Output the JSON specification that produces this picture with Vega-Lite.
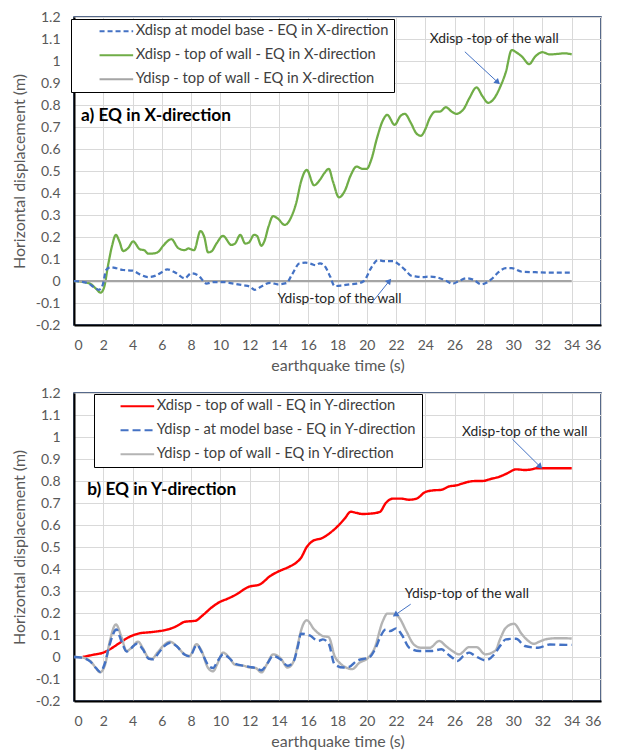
{
  "$schema": "https://vega.github.io/schema/vega-lite/v6.json",
  "padding": {"left": 10, "top": 9, "right": 5, "bottom": 3},
  "spacing": 11,
  "config": {
    "font": "Lato",
    "view": {"stroke": "#1F3864", "strokeWidth": 1.5},
    "axis": {"domainColor": "#000000", "domainWidth": 2, "gridColor": "#D9D9D9", "gridWidth": 1, "ticks": false, "labelOverlap": false, "labelSeparation": 0, "labelBound": false, "labelColor": "#595959", "labelFontSize": 14, "titleColor": "#595959", "titleFontSize": 16, "titleFontWeight": "normal", "labelFont": "Lato", "titleFont": "Lato"},
    "axisX": {"labelPadding": 13, "titlePadding": 5, "labelOverlap": false},
    "axisY": {"labelPadding": 14, "titlePadding": 8, "labelOverlap": false},
    "axisQuantitative": {"labelOverlap": false}
  },
  "datasets": {
    "a_lines": [
      {"t":0,"v":0,"s":"Xdisp - top of wall - EQ in X-direction"},
      {"t":0.5,"v":-0.003,"s":"Xdisp - top of wall - EQ in X-direction"},
      {"t":1.1,"v":-0.012,"s":"Xdisp - top of wall - EQ in X-direction"},
      {"t":1.5,"v":-0.035,"s":"Xdisp - top of wall - EQ in X-direction"},
      {"t":1.82,"v":-0.053,"s":"Xdisp - top of wall - EQ in X-direction"},
      {"t":2.05,"v":-0.03,"s":"Xdisp - top of wall - EQ in X-direction"},
      {"t":2.34,"v":0.076,"s":"Xdisp - top of wall - EQ in X-direction"},
      {"t":2.6,"v":0.16,"s":"Xdisp - top of wall - EQ in X-direction"},
      {"t":2.86,"v":0.21,"s":"Xdisp - top of wall - EQ in X-direction"},
      {"t":3.1,"v":0.18,"s":"Xdisp - top of wall - EQ in X-direction"},
      {"t":3.36,"v":0.136,"s":"Xdisp - top of wall - EQ in X-direction"},
      {"t":3.7,"v":0.15,"s":"Xdisp - top of wall - EQ in X-direction"},
      {"t":4.04,"v":0.18,"s":"Xdisp - top of wall - EQ in X-direction"},
      {"t":4.5,"v":0.144,"s":"Xdisp - top of wall - EQ in X-direction"},
      {"t":4.8,"v":0.14,"s":"Xdisp - top of wall - EQ in X-direction"},
      {"t":5.07,"v":0.124,"s":"Xdisp - top of wall - EQ in X-direction"},
      {"t":5.5,"v":0.126,"s":"Xdisp - top of wall - EQ in X-direction"},
      {"t":5.8,"v":0.135,"s":"Xdisp - top of wall - EQ in X-direction"},
      {"t":6.09,"v":0.16,"s":"Xdisp - top of wall - EQ in X-direction"},
      {"t":6.66,"v":0.19,"s":"Xdisp - top of wall - EQ in X-direction"},
      {"t":7.11,"v":0.15,"s":"Xdisp - top of wall - EQ in X-direction"},
      {"t":7.57,"v":0.14,"s":"Xdisp - top of wall - EQ in X-direction"},
      {"t":7.8,"v":0.148,"s":"Xdisp - top of wall - EQ in X-direction"},
      {"t":8.2,"v":0.14,"s":"Xdisp - top of wall - EQ in X-direction"},
      {"t":8.64,"v":0.227,"s":"Xdisp - top of wall - EQ in X-direction"},
      {"t":8.9,"v":0.2,"s":"Xdisp - top of wall - EQ in X-direction"},
      {"t":9.16,"v":0.13,"s":"Xdisp - top of wall - EQ in X-direction"},
      {"t":9.4,"v":0.135,"s":"Xdisp - top of wall - EQ in X-direction"},
      {"t":9.73,"v":0.17,"s":"Xdisp - top of wall - EQ in X-direction"},
      {"t":10.18,"v":0.205,"s":"Xdisp - top of wall - EQ in X-direction"},
      {"t":10.75,"v":0.164,"s":"Xdisp - top of wall - EQ in X-direction"},
      {"t":11.0,"v":0.17,"s":"Xdisp - top of wall - EQ in X-direction"},
      {"t":11.36,"v":0.21,"s":"Xdisp - top of wall - EQ in X-direction"},
      {"t":11.7,"v":0.17,"s":"Xdisp - top of wall - EQ in X-direction"},
      {"t":11.95,"v":0.175,"s":"Xdisp - top of wall - EQ in X-direction"},
      {"t":12.3,"v":0.21,"s":"Xdisp - top of wall - EQ in X-direction"},
      {"t":12.5,"v":0.205,"s":"Xdisp - top of wall - EQ in X-direction"},
      {"t":12.8,"v":0.16,"s":"Xdisp - top of wall - EQ in X-direction"},
      {"t":13.0,"v":0.18,"s":"Xdisp - top of wall - EQ in X-direction"},
      {"t":13.3,"v":0.25,"s":"Xdisp - top of wall - EQ in X-direction"},
      {"t":13.6,"v":0.295,"s":"Xdisp - top of wall - EQ in X-direction"},
      {"t":13.9,"v":0.285,"s":"Xdisp - top of wall - EQ in X-direction"},
      {"t":14.4,"v":0.255,"s":"Xdisp - top of wall - EQ in X-direction"},
      {"t":14.9,"v":0.3,"s":"Xdisp - top of wall - EQ in X-direction"},
      {"t":15.2,"v":0.36,"s":"Xdisp - top of wall - EQ in X-direction"},
      {"t":15.5,"v":0.45,"s":"Xdisp - top of wall - EQ in X-direction"},
      {"t":15.9,"v":0.505,"s":"Xdisp - top of wall - EQ in X-direction"},
      {"t":16.4,"v":0.435,"s":"Xdisp - top of wall - EQ in X-direction"},
      {"t":16.8,"v":0.46,"s":"Xdisp - top of wall - EQ in X-direction"},
      {"t":17.1,"v":0.49,"s":"Xdisp - top of wall - EQ in X-direction"},
      {"t":17.4,"v":0.51,"s":"Xdisp - top of wall - EQ in X-direction"},
      {"t":17.7,"v":0.45,"s":"Xdisp - top of wall - EQ in X-direction"},
      {"t":18.1,"v":0.38,"s":"Xdisp - top of wall - EQ in X-direction"},
      {"t":18.5,"v":0.41,"s":"Xdisp - top of wall - EQ in X-direction"},
      {"t":18.9,"v":0.48,"s":"Xdisp - top of wall - EQ in X-direction"},
      {"t":19.3,"v":0.52,"s":"Xdisp - top of wall - EQ in X-direction"},
      {"t":19.7,"v":0.51,"s":"Xdisp - top of wall - EQ in X-direction"},
      {"t":20.0,"v":0.51,"s":"Xdisp - top of wall - EQ in X-direction"},
      {"t":20.3,"v":0.55,"s":"Xdisp - top of wall - EQ in X-direction"},
      {"t":20.7,"v":0.65,"s":"Xdisp - top of wall - EQ in X-direction"},
      {"t":21.1,"v":0.73,"s":"Xdisp - top of wall - EQ in X-direction"},
      {"t":21.4,"v":0.755,"s":"Xdisp - top of wall - EQ in X-direction"},
      {"t":21.9,"v":0.71,"s":"Xdisp - top of wall - EQ in X-direction"},
      {"t":22.3,"v":0.75,"s":"Xdisp - top of wall - EQ in X-direction"},
      {"t":22.6,"v":0.76,"s":"Xdisp - top of wall - EQ in X-direction"},
      {"t":23.0,"v":0.72,"s":"Xdisp - top of wall - EQ in X-direction"},
      {"t":23.4,"v":0.67,"s":"Xdisp - top of wall - EQ in X-direction"},
      {"t":23.7,"v":0.66,"s":"Xdisp - top of wall - EQ in X-direction"},
      {"t":24.0,"v":0.69,"s":"Xdisp - top of wall - EQ in X-direction"},
      {"t":24.3,"v":0.74,"s":"Xdisp - top of wall - EQ in X-direction"},
      {"t":24.7,"v":0.77,"s":"Xdisp - top of wall - EQ in X-direction"},
      {"t":25.0,"v":0.77,"s":"Xdisp - top of wall - EQ in X-direction"},
      {"t":25.4,"v":0.79,"s":"Xdisp - top of wall - EQ in X-direction"},
      {"t":25.8,"v":0.77,"s":"Xdisp - top of wall - EQ in X-direction"},
      {"t":26.1,"v":0.76,"s":"Xdisp - top of wall - EQ in X-direction"},
      {"t":26.6,"v":0.78,"s":"Xdisp - top of wall - EQ in X-direction"},
      {"t":27.0,"v":0.83,"s":"Xdisp - top of wall - EQ in X-direction"},
      {"t":27.5,"v":0.88,"s":"Xdisp - top of wall - EQ in X-direction"},
      {"t":27.9,"v":0.84,"s":"Xdisp - top of wall - EQ in X-direction"},
      {"t":28.3,"v":0.81,"s":"Xdisp - top of wall - EQ in X-direction"},
      {"t":28.7,"v":0.83,"s":"Xdisp - top of wall - EQ in X-direction"},
      {"t":29.1,"v":0.88,"s":"Xdisp - top of wall - EQ in X-direction"},
      {"t":29.5,"v":0.95,"s":"Xdisp - top of wall - EQ in X-direction"},
      {"t":29.9,"v":1.05,"s":"Xdisp - top of wall - EQ in X-direction"},
      {"t":30.2,"v":1.04,"s":"Xdisp - top of wall - EQ in X-direction"},
      {"t":30.6,"v":1.02,"s":"Xdisp - top of wall - EQ in X-direction"},
      {"t":31.1,"v":0.986,"s":"Xdisp - top of wall - EQ in X-direction"},
      {"t":31.5,"v":1.02,"s":"Xdisp - top of wall - EQ in X-direction"},
      {"t":32.0,"v":1.04,"s":"Xdisp - top of wall - EQ in X-direction"},
      {"t":32.5,"v":1.03,"s":"Xdisp - top of wall - EQ in X-direction"},
      {"t":33.0,"v":1.032,"s":"Xdisp - top of wall - EQ in X-direction"},
      {"t":33.5,"v":1.035,"s":"Xdisp - top of wall - EQ in X-direction"},
      {"t":34.0,"v":1.03,"s":"Xdisp - top of wall - EQ in X-direction"},
      {"t":0,"v":0,"s":"Ydisp - top of wall - EQ in X-direction"},
      {"t":34,"v":0,"s":"Ydisp - top of wall - EQ in X-direction"},
      {"t":0,"v":0,"s":"Xdisp at model base - EQ in X-direction"},
      {"t":0.5,"v":-0.003,"s":"Xdisp at model base - EQ in X-direction"},
      {"t":1.0,"v":-0.012,"s":"Xdisp at model base - EQ in X-direction"},
      {"t":1.4,"v":-0.03,"s":"Xdisp at model base - EQ in X-direction"},
      {"t":1.7,"v":-0.04,"s":"Xdisp at model base - EQ in X-direction"},
      {"t":1.95,"v":-0.02,"s":"Xdisp at model base - EQ in X-direction"},
      {"t":2.2,"v":0.05,"s":"Xdisp at model base - EQ in X-direction"},
      {"t":2.5,"v":0.063,"s":"Xdisp at model base - EQ in X-direction"},
      {"t":2.9,"v":0.058,"s":"Xdisp at model base - EQ in X-direction"},
      {"t":3.36,"v":0.05,"s":"Xdisp at model base - EQ in X-direction"},
      {"t":4.0,"v":0.047,"s":"Xdisp at model base - EQ in X-direction"},
      {"t":4.5,"v":0.03,"s":"Xdisp at model base - EQ in X-direction"},
      {"t":5.07,"v":0.018,"s":"Xdisp at model base - EQ in X-direction"},
      {"t":5.6,"v":0.025,"s":"Xdisp at model base - EQ in X-direction"},
      {"t":6.0,"v":0.04,"s":"Xdisp at model base - EQ in X-direction"},
      {"t":6.37,"v":0.053,"s":"Xdisp at model base - EQ in X-direction"},
      {"t":7.0,"v":0.035,"s":"Xdisp at model base - EQ in X-direction"},
      {"t":7.57,"v":0.012,"s":"Xdisp at model base - EQ in X-direction"},
      {"t":8.0,"v":0.035,"s":"Xdisp at model base - EQ in X-direction"},
      {"t":8.5,"v":0.025,"s":"Xdisp at model base - EQ in X-direction"},
      {"t":9.05,"v":-0.012,"s":"Xdisp at model base - EQ in X-direction"},
      {"t":9.5,"v":-0.005,"s":"Xdisp at model base - EQ in X-direction"},
      {"t":10.2,"v":-0.005,"s":"Xdisp at model base - EQ in X-direction"},
      {"t":10.9,"v":-0.012,"s":"Xdisp at model base - EQ in X-direction"},
      {"t":11.6,"v":-0.02,"s":"Xdisp at model base - EQ in X-direction"},
      {"t":12.0,"v":-0.025,"s":"Xdisp at model base - EQ in X-direction"},
      {"t":12.35,"v":-0.04,"s":"Xdisp at model base - EQ in X-direction"},
      {"t":12.8,"v":-0.025,"s":"Xdisp at model base - EQ in X-direction"},
      {"t":13.4,"v":-0.008,"s":"Xdisp at model base - EQ in X-direction"},
      {"t":13.9,"v":-0.015,"s":"Xdisp at model base - EQ in X-direction"},
      {"t":14.5,"v":-0.01,"s":"Xdisp at model base - EQ in X-direction"},
      {"t":14.9,"v":0.03,"s":"Xdisp at model base - EQ in X-direction"},
      {"t":15.4,"v":0.08,"s":"Xdisp at model base - EQ in X-direction"},
      {"t":15.8,"v":0.083,"s":"Xdisp at model base - EQ in X-direction"},
      {"t":16.2,"v":0.078,"s":"Xdisp at model base - EQ in X-direction"},
      {"t":16.5,"v":0.072,"s":"Xdisp at model base - EQ in X-direction"},
      {"t":16.8,"v":0.08,"s":"Xdisp at model base - EQ in X-direction"},
      {"t":17.1,"v":0.07,"s":"Xdisp at model base - EQ in X-direction"},
      {"t":17.5,"v":0.02,"s":"Xdisp at model base - EQ in X-direction"},
      {"t":17.8,"v":-0.023,"s":"Xdisp at model base - EQ in X-direction"},
      {"t":18.3,"v":-0.02,"s":"Xdisp at model base - EQ in X-direction"},
      {"t":18.8,"v":-0.015,"s":"Xdisp at model base - EQ in X-direction"},
      {"t":19.3,"v":-0.012,"s":"Xdisp at model base - EQ in X-direction"},
      {"t":19.8,"v":0.0,"s":"Xdisp at model base - EQ in X-direction"},
      {"t":20.3,"v":0.06,"s":"Xdisp at model base - EQ in X-direction"},
      {"t":20.75,"v":0.095,"s":"Xdisp at model base - EQ in X-direction"},
      {"t":21.2,"v":0.09,"s":"Xdisp at model base - EQ in X-direction"},
      {"t":21.8,"v":0.09,"s":"Xdisp at model base - EQ in X-direction"},
      {"t":22.2,"v":0.075,"s":"Xdisp at model base - EQ in X-direction"},
      {"t":22.7,"v":0.045,"s":"Xdisp at model base - EQ in X-direction"},
      {"t":23.0,"v":0.025,"s":"Xdisp at model base - EQ in X-direction"},
      {"t":23.4,"v":0.02,"s":"Xdisp at model base - EQ in X-direction"},
      {"t":23.8,"v":0.018,"s":"Xdisp at model base - EQ in X-direction"},
      {"t":24.3,"v":0.02,"s":"Xdisp at model base - EQ in X-direction"},
      {"t":24.7,"v":0.018,"s":"Xdisp at model base - EQ in X-direction"},
      {"t":25.3,"v":0.005,"s":"Xdisp at model base - EQ in X-direction"},
      {"t":25.86,"v":-0.012,"s":"Xdisp at model base - EQ in X-direction"},
      {"t":26.3,"v":0.0,"s":"Xdisp at model base - EQ in X-direction"},
      {"t":26.8,"v":0.012,"s":"Xdisp at model base - EQ in X-direction"},
      {"t":27.3,"v":0.005,"s":"Xdisp at model base - EQ in X-direction"},
      {"t":27.8,"v":-0.015,"s":"Xdisp at model base - EQ in X-direction"},
      {"t":28.5,"v":0.007,"s":"Xdisp at model base - EQ in X-direction"},
      {"t":29.0,"v":0.04,"s":"Xdisp at model base - EQ in X-direction"},
      {"t":29.5,"v":0.058,"s":"Xdisp at model base - EQ in X-direction"},
      {"t":29.9,"v":0.058,"s":"Xdisp at model base - EQ in X-direction"},
      {"t":30.6,"v":0.042,"s":"Xdisp at model base - EQ in X-direction"},
      {"t":31.5,"v":0.04,"s":"Xdisp at model base - EQ in X-direction"},
      {"t":32.5,"v":0.038,"s":"Xdisp at model base - EQ in X-direction"},
      {"t":33.3,"v":0.038,"s":"Xdisp at model base - EQ in X-direction"},
      {"t":34.0,"v":0.038,"s":"Xdisp at model base - EQ in X-direction"}
    ],
    "b_lines": [
      {"t":0.6,"v":0,"s":"Xdisp - top of wall - EQ in Y-direction"},
      {"t":1.3,"v":0.01,"s":"Xdisp - top of wall - EQ in Y-direction"},
      {"t":2.0,"v":0.02,"s":"Xdisp - top of wall - EQ in Y-direction"},
      {"t":2.57,"v":0.04,"s":"Xdisp - top of wall - EQ in Y-direction"},
      {"t":3.14,"v":0.065,"s":"Xdisp - top of wall - EQ in Y-direction"},
      {"t":3.8,"v":0.092,"s":"Xdisp - top of wall - EQ in Y-direction"},
      {"t":4.5,"v":0.108,"s":"Xdisp - top of wall - EQ in Y-direction"},
      {"t":5.1,"v":0.112,"s":"Xdisp - top of wall - EQ in Y-direction"},
      {"t":5.86,"v":0.118,"s":"Xdisp - top of wall - EQ in Y-direction"},
      {"t":6.4,"v":0.125,"s":"Xdisp - top of wall - EQ in Y-direction"},
      {"t":7.0,"v":0.14,"s":"Xdisp - top of wall - EQ in Y-direction"},
      {"t":7.57,"v":0.16,"s":"Xdisp - top of wall - EQ in Y-direction"},
      {"t":8.3,"v":0.165,"s":"Xdisp - top of wall - EQ in Y-direction"},
      {"t":8.8,"v":0.19,"s":"Xdisp - top of wall - EQ in Y-direction"},
      {"t":9.4,"v":0.225,"s":"Xdisp - top of wall - EQ in Y-direction"},
      {"t":9.95,"v":0.25,"s":"Xdisp - top of wall - EQ in Y-direction"},
      {"t":10.5,"v":0.265,"s":"Xdisp - top of wall - EQ in Y-direction"},
      {"t":11.1,"v":0.285,"s":"Xdisp - top of wall - EQ in Y-direction"},
      {"t":11.9,"v":0.318,"s":"Xdisp - top of wall - EQ in Y-direction"},
      {"t":12.7,"v":0.33,"s":"Xdisp - top of wall - EQ in Y-direction"},
      {"t":13.4,"v":0.368,"s":"Xdisp - top of wall - EQ in Y-direction"},
      {"t":14.0,"v":0.39,"s":"Xdisp - top of wall - EQ in Y-direction"},
      {"t":14.7,"v":0.41,"s":"Xdisp - top of wall - EQ in Y-direction"},
      {"t":15.2,"v":0.43,"s":"Xdisp - top of wall - EQ in Y-direction"},
      {"t":15.5,"v":0.45,"s":"Xdisp - top of wall - EQ in Y-direction"},
      {"t":15.9,"v":0.5,"s":"Xdisp - top of wall - EQ in Y-direction"},
      {"t":16.3,"v":0.527,"s":"Xdisp - top of wall - EQ in Y-direction"},
      {"t":17.0,"v":0.542,"s":"Xdisp - top of wall - EQ in Y-direction"},
      {"t":17.6,"v":0.57,"s":"Xdisp - top of wall - EQ in Y-direction"},
      {"t":18.1,"v":0.6,"s":"Xdisp - top of wall - EQ in Y-direction"},
      {"t":18.5,"v":0.63,"s":"Xdisp - top of wall - EQ in Y-direction"},
      {"t":18.9,"v":0.66,"s":"Xdisp - top of wall - EQ in Y-direction"},
      {"t":19.3,"v":0.655,"s":"Xdisp - top of wall - EQ in Y-direction"},
      {"t":19.7,"v":0.65,"s":"Xdisp - top of wall - EQ in Y-direction"},
      {"t":20.3,"v":0.652,"s":"Xdisp - top of wall - EQ in Y-direction"},
      {"t":20.9,"v":0.66,"s":"Xdisp - top of wall - EQ in Y-direction"},
      {"t":21.3,"v":0.7,"s":"Xdisp - top of wall - EQ in Y-direction"},
      {"t":21.8,"v":0.72,"s":"Xdisp - top of wall - EQ in Y-direction"},
      {"t":22.3,"v":0.72,"s":"Xdisp - top of wall - EQ in Y-direction"},
      {"t":22.9,"v":0.715,"s":"Xdisp - top of wall - EQ in Y-direction"},
      {"t":23.4,"v":0.72,"s":"Xdisp - top of wall - EQ in Y-direction"},
      {"t":24.0,"v":0.75,"s":"Xdisp - top of wall - EQ in Y-direction"},
      {"t":24.5,"v":0.757,"s":"Xdisp - top of wall - EQ in Y-direction"},
      {"t":25.1,"v":0.76,"s":"Xdisp - top of wall - EQ in Y-direction"},
      {"t":25.6,"v":0.775,"s":"Xdisp - top of wall - EQ in Y-direction"},
      {"t":26.1,"v":0.78,"s":"Xdisp - top of wall - EQ in Y-direction"},
      {"t":26.6,"v":0.79,"s":"Xdisp - top of wall - EQ in Y-direction"},
      {"t":27.0,"v":0.797,"s":"Xdisp - top of wall - EQ in Y-direction"},
      {"t":27.5,"v":0.8,"s":"Xdisp - top of wall - EQ in Y-direction"},
      {"t":27.9,"v":0.8,"s":"Xdisp - top of wall - EQ in Y-direction"},
      {"t":28.5,"v":0.81,"s":"Xdisp - top of wall - EQ in Y-direction"},
      {"t":29.0,"v":0.818,"s":"Xdisp - top of wall - EQ in Y-direction"},
      {"t":29.6,"v":0.835,"s":"Xdisp - top of wall - EQ in Y-direction"},
      {"t":30.2,"v":0.853,"s":"Xdisp - top of wall - EQ in Y-direction"},
      {"t":30.8,"v":0.85,"s":"Xdisp - top of wall - EQ in Y-direction"},
      {"t":31.2,"v":0.852,"s":"Xdisp - top of wall - EQ in Y-direction"},
      {"t":31.65,"v":0.858,"s":"Xdisp - top of wall - EQ in Y-direction"},
      {"t":32.5,"v":0.858,"s":"Xdisp - top of wall - EQ in Y-direction"},
      {"t":33.3,"v":0.858,"s":"Xdisp - top of wall - EQ in Y-direction"},
      {"t":34.0,"v":0.858,"s":"Xdisp - top of wall - EQ in Y-direction"},
      {"t":0,"v":0,"s":"Ydisp - top of wall - EQ in Y-direction"},
      {"t":0.5,"v":-0.002,"s":"Ydisp - top of wall - EQ in Y-direction"},
      {"t":1.1,"v":-0.018,"s":"Ydisp - top of wall - EQ in Y-direction"},
      {"t":1.5,"v":-0.05,"s":"Ydisp - top of wall - EQ in Y-direction"},
      {"t":1.77,"v":-0.07,"s":"Ydisp - top of wall - EQ in Y-direction"},
      {"t":2.1,"v":-0.04,"s":"Ydisp - top of wall - EQ in Y-direction"},
      {"t":2.45,"v":0.073,"s":"Ydisp - top of wall - EQ in Y-direction"},
      {"t":2.86,"v":0.148,"s":"Ydisp - top of wall - EQ in Y-direction"},
      {"t":3.25,"v":0.09,"s":"Ydisp - top of wall - EQ in Y-direction"},
      {"t":3.59,"v":0.027,"s":"Ydisp - top of wall - EQ in Y-direction"},
      {"t":3.9,"v":0.04,"s":"Ydisp - top of wall - EQ in Y-direction"},
      {"t":4.38,"v":0.07,"s":"Ydisp - top of wall - EQ in Y-direction"},
      {"t":4.7,"v":0.04,"s":"Ydisp - top of wall - EQ in Y-direction"},
      {"t":5.07,"v":-0.003,"s":"Ydisp - top of wall - EQ in Y-direction"},
      {"t":5.3,"v":-0.01,"s":"Ydisp - top of wall - EQ in Y-direction"},
      {"t":5.7,"v":0.02,"s":"Ydisp - top of wall - EQ in Y-direction"},
      {"t":6.09,"v":0.05,"s":"Ydisp - top of wall - EQ in Y-direction"},
      {"t":6.55,"v":0.07,"s":"Ydisp - top of wall - EQ in Y-direction"},
      {"t":7.0,"v":0.05,"s":"Ydisp - top of wall - EQ in Y-direction"},
      {"t":7.57,"v":0.012,"s":"Ydisp - top of wall - EQ in Y-direction"},
      {"t":7.9,"v":0.005,"s":"Ydisp - top of wall - EQ in Y-direction"},
      {"t":8.36,"v":0.058,"s":"Ydisp - top of wall - EQ in Y-direction"},
      {"t":8.7,"v":0.03,"s":"Ydisp - top of wall - EQ in Y-direction"},
      {"t":9.16,"v":-0.05,"s":"Ydisp - top of wall - EQ in Y-direction"},
      {"t":9.5,"v":-0.065,"s":"Ydisp - top of wall - EQ in Y-direction"},
      {"t":9.8,"v":-0.03,"s":"Ydisp - top of wall - EQ in Y-direction"},
      {"t":10.18,"v":0.02,"s":"Ydisp - top of wall - EQ in Y-direction"},
      {"t":10.6,"v":-0.003,"s":"Ydisp - top of wall - EQ in Y-direction"},
      {"t":11.0,"v":-0.035,"s":"Ydisp - top of wall - EQ in Y-direction"},
      {"t":11.6,"v":-0.04,"s":"Ydisp - top of wall - EQ in Y-direction"},
      {"t":12.0,"v":-0.048,"s":"Ydisp - top of wall - EQ in Y-direction"},
      {"t":12.4,"v":-0.05,"s":"Ydisp - top of wall - EQ in Y-direction"},
      {"t":12.8,"v":-0.07,"s":"Ydisp - top of wall - EQ in Y-direction"},
      {"t":13.2,"v":-0.03,"s":"Ydisp - top of wall - EQ in Y-direction"},
      {"t":13.6,"v":0.012,"s":"Ydisp - top of wall - EQ in Y-direction"},
      {"t":14.1,"v":-0.005,"s":"Ydisp - top of wall - EQ in Y-direction"},
      {"t":14.6,"v":-0.048,"s":"Ydisp - top of wall - EQ in Y-direction"},
      {"t":15.0,"v":-0.02,"s":"Ydisp - top of wall - EQ in Y-direction"},
      {"t":15.3,"v":0.06,"s":"Ydisp - top of wall - EQ in Y-direction"},
      {"t":15.5,"v":0.118,"s":"Ydisp - top of wall - EQ in Y-direction"},
      {"t":15.9,"v":0.167,"s":"Ydisp - top of wall - EQ in Y-direction"},
      {"t":16.4,"v":0.126,"s":"Ydisp - top of wall - EQ in Y-direction"},
      {"t":17.0,"v":0.095,"s":"Ydisp - top of wall - EQ in Y-direction"},
      {"t":17.4,"v":0.09,"s":"Ydisp - top of wall - EQ in Y-direction"},
      {"t":17.8,"v":0.005,"s":"Ydisp - top of wall - EQ in Y-direction"},
      {"t":18.2,"v":-0.03,"s":"Ydisp - top of wall - EQ in Y-direction"},
      {"t":18.6,"v":-0.048,"s":"Ydisp - top of wall - EQ in Y-direction"},
      {"t":19.0,"v":-0.055,"s":"Ydisp - top of wall - EQ in Y-direction"},
      {"t":19.5,"v":-0.026,"s":"Ydisp - top of wall - EQ in Y-direction"},
      {"t":20.1,"v":-0.003,"s":"Ydisp - top of wall - EQ in Y-direction"},
      {"t":20.5,"v":0.035,"s":"Ydisp - top of wall - EQ in Y-direction"},
      {"t":21.1,"v":0.164,"s":"Ydisp - top of wall - EQ in Y-direction"},
      {"t":21.4,"v":0.197,"s":"Ydisp - top of wall - EQ in Y-direction"},
      {"t":21.8,"v":0.197,"s":"Ydisp - top of wall - EQ in Y-direction"},
      {"t":22.2,"v":0.18,"s":"Ydisp - top of wall - EQ in Y-direction"},
      {"t":22.7,"v":0.118,"s":"Ydisp - top of wall - EQ in Y-direction"},
      {"t":23.2,"v":0.058,"s":"Ydisp - top of wall - EQ in Y-direction"},
      {"t":23.7,"v":0.042,"s":"Ydisp - top of wall - EQ in Y-direction"},
      {"t":24.3,"v":0.042,"s":"Ydisp - top of wall - EQ in Y-direction"},
      {"t":24.95,"v":0.073,"s":"Ydisp - top of wall - EQ in Y-direction"},
      {"t":25.4,"v":0.05,"s":"Ydisp - top of wall - EQ in Y-direction"},
      {"t":25.9,"v":0.025,"s":"Ydisp - top of wall - EQ in Y-direction"},
      {"t":26.3,"v":0.012,"s":"Ydisp - top of wall - EQ in Y-direction"},
      {"t":27.0,"v":0.045,"s":"Ydisp - top of wall - EQ in Y-direction"},
      {"t":27.5,"v":0.045,"s":"Ydisp - top of wall - EQ in Y-direction"},
      {"t":28.1,"v":0.012,"s":"Ydisp - top of wall - EQ in Y-direction"},
      {"t":28.8,"v":0.03,"s":"Ydisp - top of wall - EQ in Y-direction"},
      {"t":29.1,"v":0.08,"s":"Ydisp - top of wall - EQ in Y-direction"},
      {"t":29.5,"v":0.133,"s":"Ydisp - top of wall - EQ in Y-direction"},
      {"t":30.05,"v":0.151,"s":"Ydisp - top of wall - EQ in Y-direction"},
      {"t":30.6,"v":0.103,"s":"Ydisp - top of wall - EQ in Y-direction"},
      {"t":31.0,"v":0.075,"s":"Ydisp - top of wall - EQ in Y-direction"},
      {"t":31.4,"v":0.06,"s":"Ydisp - top of wall - EQ in Y-direction"},
      {"t":31.8,"v":0.07,"s":"Ydisp - top of wall - EQ in Y-direction"},
      {"t":32.2,"v":0.08,"s":"Ydisp - top of wall - EQ in Y-direction"},
      {"t":32.9,"v":0.085,"s":"Ydisp - top of wall - EQ in Y-direction"},
      {"t":33.6,"v":0.085,"s":"Ydisp - top of wall - EQ in Y-direction"},
      {"t":34.0,"v":0.084,"s":"Ydisp - top of wall - EQ in Y-direction"},
      {"t":0,"v":0,"s":"Ydisp - at model base - EQ in Y-direction"},
      {"t":0.5,"v":-0.003,"s":"Ydisp - at model base - EQ in Y-direction"},
      {"t":1.1,"v":-0.02,"s":"Ydisp - at model base - EQ in Y-direction"},
      {"t":1.5,"v":-0.05,"s":"Ydisp - at model base - EQ in Y-direction"},
      {"t":1.8,"v":-0.068,"s":"Ydisp - at model base - EQ in Y-direction"},
      {"t":2.1,"v":-0.03,"s":"Ydisp - at model base - EQ in Y-direction"},
      {"t":2.45,"v":0.06,"s":"Ydisp - at model base - EQ in Y-direction"},
      {"t":2.9,"v":0.125,"s":"Ydisp - at model base - EQ in Y-direction"},
      {"t":3.25,"v":0.07,"s":"Ydisp - at model base - EQ in Y-direction"},
      {"t":3.6,"v":0.025,"s":"Ydisp - at model base - EQ in Y-direction"},
      {"t":3.9,"v":0.04,"s":"Ydisp - at model base - EQ in Y-direction"},
      {"t":4.3,"v":0.06,"s":"Ydisp - at model base - EQ in Y-direction"},
      {"t":4.7,"v":0.035,"s":"Ydisp - at model base - EQ in Y-direction"},
      {"t":5.1,"v":-0.008,"s":"Ydisp - at model base - EQ in Y-direction"},
      {"t":5.4,"v":-0.01,"s":"Ydisp - at model base - EQ in Y-direction"},
      {"t":5.8,"v":0.02,"s":"Ydisp - at model base - EQ in Y-direction"},
      {"t":6.1,"v":0.045,"s":"Ydisp - at model base - EQ in Y-direction"},
      {"t":6.6,"v":0.065,"s":"Ydisp - at model base - EQ in Y-direction"},
      {"t":7.0,"v":0.05,"s":"Ydisp - at model base - EQ in Y-direction"},
      {"t":7.57,"v":0.01,"s":"Ydisp - at model base - EQ in Y-direction"},
      {"t":7.9,"v":0.003,"s":"Ydisp - at model base - EQ in Y-direction"},
      {"t":8.4,"v":0.055,"s":"Ydisp - at model base - EQ in Y-direction"},
      {"t":8.7,"v":0.025,"s":"Ydisp - at model base - EQ in Y-direction"},
      {"t":9.2,"v":-0.04,"s":"Ydisp - at model base - EQ in Y-direction"},
      {"t":9.5,"v":-0.05,"s":"Ydisp - at model base - EQ in Y-direction"},
      {"t":9.8,"v":-0.02,"s":"Ydisp - at model base - EQ in Y-direction"},
      {"t":10.2,"v":0.012,"s":"Ydisp - at model base - EQ in Y-direction"},
      {"t":10.6,"v":-0.005,"s":"Ydisp - at model base - EQ in Y-direction"},
      {"t":11.0,"v":-0.03,"s":"Ydisp - at model base - EQ in Y-direction"},
      {"t":11.6,"v":-0.04,"s":"Ydisp - at model base - EQ in Y-direction"},
      {"t":12.0,"v":-0.045,"s":"Ydisp - at model base - EQ in Y-direction"},
      {"t":12.4,"v":-0.05,"s":"Ydisp - at model base - EQ in Y-direction"},
      {"t":12.8,"v":-0.06,"s":"Ydisp - at model base - EQ in Y-direction"},
      {"t":13.2,"v":-0.03,"s":"Ydisp - at model base - EQ in Y-direction"},
      {"t":13.6,"v":0.005,"s":"Ydisp - at model base - EQ in Y-direction"},
      {"t":14.1,"v":-0.01,"s":"Ydisp - at model base - EQ in Y-direction"},
      {"t":14.6,"v":-0.04,"s":"Ydisp - at model base - EQ in Y-direction"},
      {"t":15.0,"v":-0.02,"s":"Ydisp - at model base - EQ in Y-direction"},
      {"t":15.3,"v":0.05,"s":"Ydisp - at model base - EQ in Y-direction"},
      {"t":15.5,"v":0.106,"s":"Ydisp - at model base - EQ in Y-direction"},
      {"t":16.1,"v":0.098,"s":"Ydisp - at model base - EQ in Y-direction"},
      {"t":16.7,"v":0.073,"s":"Ydisp - at model base - EQ in Y-direction"},
      {"t":17.0,"v":0.08,"s":"Ydisp - at model base - EQ in Y-direction"},
      {"t":17.4,"v":0.06,"s":"Ydisp - at model base - EQ in Y-direction"},
      {"t":17.8,"v":-0.033,"s":"Ydisp - at model base - EQ in Y-direction"},
      {"t":18.4,"v":-0.048,"s":"Ydisp - at model base - EQ in Y-direction"},
      {"t":18.8,"v":-0.045,"s":"Ydisp - at model base - EQ in Y-direction"},
      {"t":19.3,"v":-0.018,"s":"Ydisp - at model base - EQ in Y-direction"},
      {"t":20.2,"v":0.0,"s":"Ydisp - at model base - EQ in Y-direction"},
      {"t":20.6,"v":0.04,"s":"Ydisp - at model base - EQ in Y-direction"},
      {"t":20.9,"v":0.088,"s":"Ydisp - at model base - EQ in Y-direction"},
      {"t":21.3,"v":0.126,"s":"Ydisp - at model base - EQ in Y-direction"},
      {"t":21.6,"v":0.118,"s":"Ydisp - at model base - EQ in Y-direction"},
      {"t":22.0,"v":0.13,"s":"Ydisp - at model base - EQ in Y-direction"},
      {"t":22.4,"v":0.1,"s":"Ydisp - at model base - EQ in Y-direction"},
      {"t":22.9,"v":0.042,"s":"Ydisp - at model base - EQ in Y-direction"},
      {"t":23.6,"v":0.027,"s":"Ydisp - at model base - EQ in Y-direction"},
      {"t":24.4,"v":0.027,"s":"Ydisp - at model base - EQ in Y-direction"},
      {"t":25.1,"v":0.035,"s":"Ydisp - at model base - EQ in Y-direction"},
      {"t":25.5,"v":0.015,"s":"Ydisp - at model base - EQ in Y-direction"},
      {"t":25.9,"v":-0.006,"s":"Ydisp - at model base - EQ in Y-direction"},
      {"t":26.2,"v":-0.018,"s":"Ydisp - at model base - EQ in Y-direction"},
      {"t":26.6,"v":0.005,"s":"Ydisp - at model base - EQ in Y-direction"},
      {"t":27.0,"v":0.02,"s":"Ydisp - at model base - EQ in Y-direction"},
      {"t":27.4,"v":0.005,"s":"Ydisp - at model base - EQ in Y-direction"},
      {"t":28.1,"v":-0.015,"s":"Ydisp - at model base - EQ in Y-direction"},
      {"t":28.8,"v":0.02,"s":"Ydisp - at model base - EQ in Y-direction"},
      {"t":29.1,"v":0.05,"s":"Ydisp - at model base - EQ in Y-direction"},
      {"t":29.5,"v":0.08,"s":"Ydisp - at model base - EQ in Y-direction"},
      {"t":30.2,"v":0.083,"s":"Ydisp - at model base - EQ in Y-direction"},
      {"t":30.8,"v":0.05,"s":"Ydisp - at model base - EQ in Y-direction"},
      {"t":31.7,"v":0.042,"s":"Ydisp - at model base - EQ in Y-direction"},
      {"t":32.5,"v":0.057,"s":"Ydisp - at model base - EQ in Y-direction"},
      {"t":33.6,"v":0.055,"s":"Ydisp - at model base - EQ in Y-direction"},
      {"t":34.0,"v":0.055,"s":"Ydisp - at model base - EQ in Y-direction"}
    ],
    "a_notes": [
      {"t":0.48,"v":0.748,"label":"a) EQ in X-direction","kind":"bold"},
      {"t":24.3,"v":1.1,"label":"Xdisp -top of the wall","kind":"plain"},
      {"t":13.9,"v":-0.082,"label":"Ydisp-top of the wall","kind":"plain"}
    ],
    "b_notes": [
      {"t":0.9,"v":0.76,"label":"b) EQ in Y-direction","kind":"bold"},
      {"t":26.5,"v":1.024,"label":"Xdisp-top of the wall","kind":"plain"},
      {"t":22.6,"v":0.285,"label":"Ydisp-top of the wall","kind":"plain"}
    ],
    "a_arrows": [
      {"id":"x","t":26.7,"v":1.042,"t2":28.9,"v2":0.906},
      {"id":"y","t":20.3,"v":-0.103,"t2":21.5,"v2":-0.003}
    ],
    "b_arrows": [
      {"id":"x","t":29.95,"v":0.99,"t2":31.8,"v2":0.868},
      {"id":"y","t":23.0,"v":0.24,"t2":22.0,"v2":0.194}
    ]
  },
  "vconcat": [
    {
      "width": 527,
      "height": 308,
      "encoding": {
        "x": {"field": "t", "type": "quantitative", "title": "earthquake time (s)", "scale": {"domain": [0, 36], "nice": false}, "axis": {"values": [0,2,4,6,8,10,12,14,16,18,20,22,24,26,28,30,32,34,36], "format": "d", "labelOverlap": false}},
        "y": {"field": "v", "type": "quantitative", "title": "Horizontal displacement (m)", "scale": {"domain": [-0.2, 1.2], "nice": false}, "axis": {"values": [-0.2,-0.1,0,0.1,0.2,0.3,0.4,0.5,0.6,0.7,0.8,0.9,1,1.1,1.2], "labelExpr": "replace(format(datum.value, '.1~f'), '\u2212', '-')", "labelOverlap": false}}
      },
      "layer": [
        {
          "data": {"name": "a_lines"},
          "mark": {"type": "line", "interpolate": "monotone", "strokeWidth": 2.25},
          "encoding": {
            "color": {"field": "s", "type": "nominal", "scale": {"domain": ["Xdisp at model base - EQ in X-direction", "Xdisp - top of wall - EQ in X-direction", "Ydisp - top of wall - EQ in X-direction"], "range": ["#4472C4", "#70AD47", "#A5A5A5"]},
              "legend": {"title": null, "orient": "none", "legendX": -3, "legendY": 2, "direction": "vertical", "strokeColor": "#000000", "fillColor": "#FFFFFF", "padding": 5, "symbolType": "M-2.8,0H2.8", "symbolSize": 144, "symbolStrokeWidth": 2, "symbolOffset": 33, "labelOffset": 12, "labelFontSize": 14.7, "labelColor": "#404040", "labelLimit": 0, "rowPadding": 8}},
            "strokeDash": {"field": "s", "type": "nominal", "scale": {"domain": ["Xdisp at model base - EQ in X-direction", "Xdisp - top of wall - EQ in X-direction", "Ydisp - top of wall - EQ in X-direction"], "range": [[5, 3], [1, 0], [1, 0]]},
              "legend": {"title": null, "orient": "none", "legendX": -3, "legendY": 2, "direction": "vertical", "strokeColor": "#000000", "fillColor": "#FFFFFF", "padding": 5, "symbolType": "M-2.8,0H2.8", "symbolSize": 144, "symbolStrokeWidth": 2, "symbolOffset": 33, "labelOffset": 12, "labelFontSize": 14.7, "labelColor": "#404040", "labelLimit": 0, "rowPadding": 8}}
          }
        },
        {
          "data": {"name": "a_arrows"},
          "mark": {"type": "rule", "color": "#4472C4", "strokeWidth": 1},
          "encoding": {"x2": {"field": "t2"}, "y2": {"field": "v2"}}
        },
        {
          "data": {"name": "a_arrows"},
          "transform": [{"filter": "datum.id == 'x'"}],
          "mark": {"type": "point", "shape": "triangle", "filled": true, "color": "#4472C4", "opacity": 1, "size": 45, "angle": 133},
          "encoding": {
            "x": {"field": "t2", "type": "quantitative"},
            "y": {"field": "v2", "type": "quantitative"}
          }
        },
        {
          "data": {"name": "a_arrows"},
          "transform": [{"filter": "datum.id == 'y'"}],
          "mark": {"type": "point", "shape": "triangle", "filled": true, "color": "#4472C4", "opacity": 1, "size": 45, "angle": 39},
          "encoding": {
            "x": {"field": "t2", "type": "quantitative"},
            "y": {"field": "v2", "type": "quantitative"}
          }
        },
        {
          "data": {"name": "a_notes"},
          "transform": [{"filter": "datum.kind == 'plain'"}],
          "mark": {"type": "text", "align": "left", "baseline": "middle", "fontSize": 13.8, "color": "#262626", "font": "Lato"},
          "encoding": {"text": {"field": "label"}}
        },
        {
          "data": {"name": "a_notes"},
          "transform": [{"filter": "datum.kind == 'bold'"}],
          "mark": {"type": "text", "align": "left", "baseline": "middle", "fontSize": 17.3, "fontWeight": "bold", "color": "#000000", "font": "Lato"},
          "encoding": {"text": {"field": "label"}}
        }
      ]
    },
    {
      "width": 527,
      "height": 308,
      "encoding": {
        "x": {"field": "t", "type": "quantitative", "title": "earthquake time (s)", "scale": {"domain": [0, 36], "nice": false}, "axis": {"values": [0,2,4,6,8,10,12,14,16,18,20,22,24,26,28,30,32,34,36], "format": "d", "labelOverlap": false}},
        "y": {"field": "v", "type": "quantitative", "title": "Horizontal displacement (m)", "scale": {"domain": [-0.2, 1.2], "nice": false}, "axis": {"values": [-0.2,-0.1,0,0.1,0.2,0.3,0.4,0.5,0.6,0.7,0.8,0.9,1,1.1,1.2], "labelExpr": "replace(format(datum.value, '.1~f'), '\u2212', '-')", "labelOverlap": false}}
      },
      "layer": [
        {
          "data": {"name": "b_lines"},
          "mark": {"type": "line", "interpolate": "monotone", "strokeWidth": 2.4},
          "encoding": {
            "color": {"field": "s", "type": "nominal", "scale": {"domain": ["Xdisp - top of wall - EQ in Y-direction", "Ydisp - at model base - EQ in Y-direction", "Ydisp - top of wall - EQ in Y-direction"], "range": ["#FF0000", "#4472C4", "#B4B4B4"]},
              "legend": {"title": null, "orient": "none", "legendX": 20, "legendY": 1, "direction": "vertical", "strokeColor": "#000000", "fillColor": "#FFFFFF", "padding": 5, "symbolType": "M-2.8,0H2.8", "symbolSize": 144, "symbolStrokeWidth": 2, "symbolOffset": 31, "labelOffset": 12, "labelFontSize": 14.7, "labelColor": "#404040", "labelLimit": 0, "rowPadding": 8}},
            "strokeDash": {"field": "s", "type": "nominal", "scale": {"domain": ["Xdisp - top of wall - EQ in Y-direction", "Ydisp - at model base - EQ in Y-direction", "Ydisp - top of wall - EQ in Y-direction"], "range": [[1, 0], [8, 4], [1, 0]]},
              "legend": {"title": null, "orient": "none", "legendX": 20, "legendY": 1, "direction": "vertical", "strokeColor": "#000000", "fillColor": "#FFFFFF", "padding": 5, "symbolType": "M-2.8,0H2.8", "symbolSize": 144, "symbolStrokeWidth": 2, "symbolOffset": 31, "labelOffset": 12, "labelFontSize": 14.7, "labelColor": "#404040", "labelLimit": 0, "rowPadding": 8}}
          }
        },
        {
          "data": {"name": "b_arrows"},
          "mark": {"type": "rule", "color": "#4472C4", "strokeWidth": 1},
          "encoding": {"x2": {"field": "t2"}, "y2": {"field": "v2"}}
        },
        {
          "data": {"name": "b_arrows"},
          "transform": [{"filter": "datum.id == 'x'"}],
          "mark": {"type": "point", "shape": "triangle", "filled": true, "color": "#4472C4", "opacity": 1, "size": 45, "angle": 135},
          "encoding": {
            "x": {"field": "t2", "type": "quantitative"},
            "y": {"field": "v2", "type": "quantitative"}
          }
        },
        {
          "data": {"name": "b_arrows"},
          "transform": [{"filter": "datum.id == 'y'"}],
          "mark": {"type": "point", "shape": "triangle", "filled": true, "color": "#4472C4", "opacity": 1, "size": 45, "angle": 236},
          "encoding": {
            "x": {"field": "t2", "type": "quantitative"},
            "y": {"field": "v2", "type": "quantitative"}
          }
        },
        {
          "data": {"name": "b_notes"},
          "transform": [{"filter": "datum.kind == 'plain'"}],
          "mark": {"type": "text", "align": "left", "baseline": "middle", "fontSize": 13.8, "color": "#262626", "font": "Lato"},
          "encoding": {"text": {"field": "label"}}
        },
        {
          "data": {"name": "b_notes"},
          "transform": [{"filter": "datum.kind == 'bold'"}],
          "mark": {"type": "text", "align": "left", "baseline": "middle", "fontSize": 17.3, "fontWeight": "bold", "color": "#000000", "font": "Lato"},
          "encoding": {"text": {"field": "label"}}
        }
      ]
    }
  ],
  "resolve": {"scale": {"color": "independent", "strokeDash": "independent"}, "legend": {"color": "independent", "strokeDash": "independent"}}
}
